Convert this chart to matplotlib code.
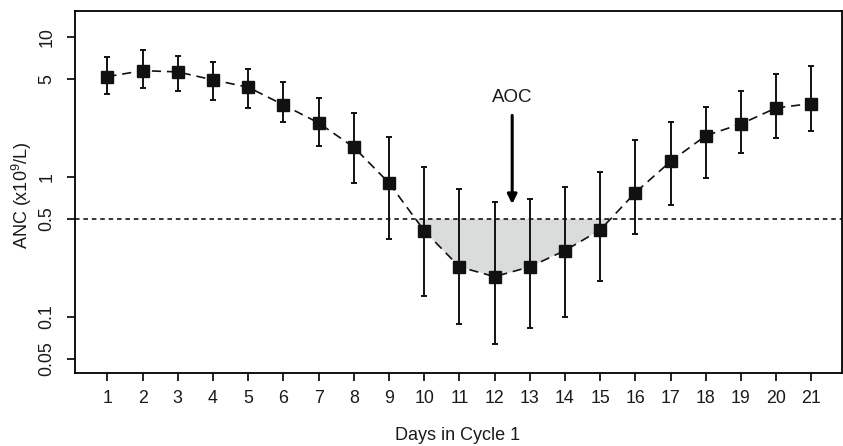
import numpy as np
import matplotlib
matplotlib.use("Agg")
import matplotlib.pyplot as plt

plt.rcParams['font.family'] = ['Liberation Sans', 'DejaVu Sans']
plt.rcParams['mathtext.fontset'] = 'custom'
plt.rcParams['mathtext.rm'] = 'Liberation Sans'

# values (ANC, x10^9/L)
days = np.arange(1, 22)
anc = [5.2, 5.74, 5.62, 4.93, 4.37, 3.27, 2.43, 1.63, 0.906, 0.413, 0.228,
       0.194, 0.228, 0.298, 0.418, 0.773, 1.29, 1.97, 2.39, 3.11, 3.34]
anc_lo = [3.94, 4.32, 4.09, 3.55, 3.11, 2.48, 1.67, 0.906, 0.359, 0.141, 0.0887,
          0.0645, 0.083, 0.0995, 0.18, 0.392, 0.631, 0.979, 1.48, 1.91, 2.14]
anc_hi = [7.23, 8.08, 7.31, 6.66, 5.91, 4.77, 3.67, 2.88, 1.94, 1.18, 0.82,
          0.663, 0.697, 0.853, 1.086, 1.83, 2.48, 3.16, 4.09, 5.44, 6.24]
threshold = 0.5
y_ticks = [0.05, 0.1, 0.5, 1, 5, 10]
y_ticklabels = ["0.05", "0.1", "0.5", "1", "5", "10"]

anc = np.array(anc)
fig = plt.figure(figsize=(8.43, 4.46), dpi=100)
ax = fig.add_axes([75 / 843, 1 - 373 / 446, 767 / 843, 362 / 446])
ax.set_yscale('log')

# shaded area under the threshold (lines are straight on the log axis)
logy = np.log10(anc)
lt = np.log10(threshold)
below = np.where(anc < threshold)[0]
i0, i1 = below[0], below[-1]
x_start = days[i0 - 1] + (lt - logy[i0 - 1]) / (logy[i0] - logy[i0 - 1])
x_end = days[i1] + (lt - logy[i1]) / (logy[i1 + 1] - logy[i1])
poly_x = np.concatenate([[x_start], days[i0:i1 + 1], [x_end]])
poly_y = np.concatenate([[threshold], anc[i0:i1 + 1], [threshold]])
ax.fill(poly_x, poly_y, color='#dadbdb', lw=0, zorder=1)

ax.axhline(threshold, color='black', lw=1.1, ls=(0, (3, 2.5)), zorder=2)

yerr = [anc - np.array(anc_lo), np.array(anc_hi) - anc]
ax.errorbar(days, anc, yerr=yerr, fmt='none', ecolor='#111111', elinewidth=1.4,
            capsize=2.3, capthick=1.4, zorder=3)
ax.plot(days, anc, color='#111111', lw=1.2, ls=(0, (5.5, 3.5)), zorder=4)
ax.plot(days, anc, ls='none', marker='s', ms=8.3, color='#111111', zorder=5)

# AOC arrow
ax.annotate('', xy=(12.5, 0.64), xytext=(12.5, 2.75),
            arrowprops=dict(arrowstyle='-|>', lw=2.2, color='black',
                            mutation_scale=14, shrinkA=0, shrinkB=0))
ax.text(12.5, 3.7, 'AOC', ha='center', va='center', fontsize=13.5, color='#1a1a1a')

ax.set_xlim(0.08, 21.87)
ax.set_ylim(0.0398, 15.3)
ax.set_xticks(days)
ax.set_xticklabels([str(d) for d in days])
ax.set_yticks(y_ticks)
ax.set_yticklabels(y_ticklabels, rotation=90, va='center')
ax.minorticks_off()
ax.tick_params(axis='both', direction='out', length=6, width=1.2, labelsize=12.8,
               labelcolor='#1a1a1a')
ax.tick_params(axis='x', pad=6.5)
ax.tick_params(axis='y', pad=8)
for s in ax.spines.values():
    s.set_linewidth(1.3)

fig.text(458 / 843, 1 - 435 / 446, 'Days in Cycle 1', ha='center', va='center',
         fontsize=13, color='#1a1a1a')
fig.text(22 / 843, 1 - 195 / 446, 'ANC (x10$^{9}$/L)', ha='center', va='center',
         rotation=90, fontsize=13, color='#1a1a1a')

fig.savefig('out.png', dpi=100)
